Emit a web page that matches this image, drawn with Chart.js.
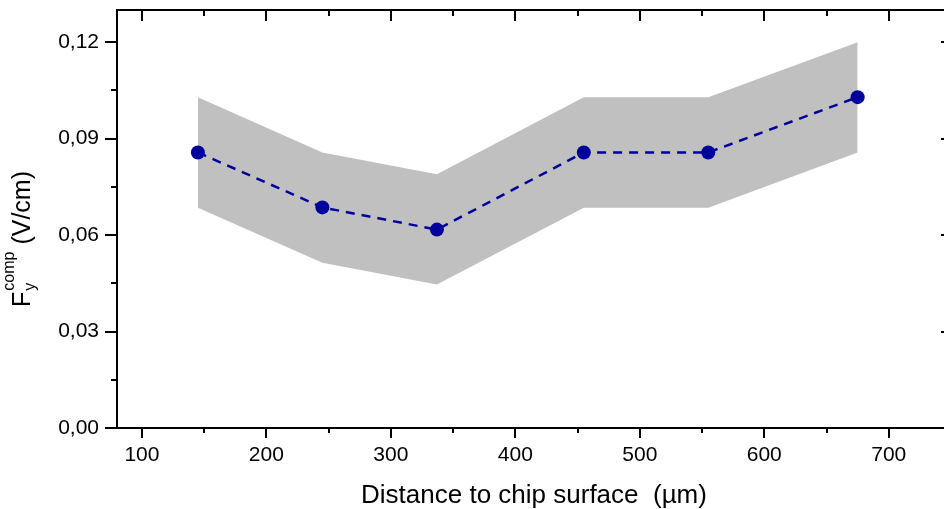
<!DOCTYPE html>
<html>
<head>
<meta charset="utf-8">
<script src="https://cdn.jsdelivr.net/npm/chart.js@4"></script>
<style>
  html, body { margin: 0; padding: 0; background: #fff; overflow: hidden; }
  #wrap { width: 960px; height: 509px; }
</style>
</head>
<body>
<div id="wrap"><canvas id="grafico" width="960" height="509"></canvas></div>
<script>
// datos
const distancias = [145, 245, 337, 455, 555, 675];
const campoFy = [0.0857, 0.0686, 0.0617, 0.0857, 0.0857, 0.1029];
const bandaSuperior = [0.1029, 0.0857, 0.0789, 0.1029, 0.1029, 0.1200];
const bandaInferior = [0.0685, 0.0514, 0.0446, 0.0685, 0.0685, 0.0857];
const ticksX = [100, 200, 300, 400, 500, 600, 700];
const ticksXMenores = [150, 250, 350, 450, 550, 650, 750];
const ticksY = [0, 0.03, 0.06, 0.09, 0.12];
const ticksYMenores = [0.015, 0.045, 0.075, 0.105];

const azul = '#00009c';
const gris = '#c0c0c0';
const fuente = 'Arial, "Liberation Sans", sans-serif';

function puntos(valores) {
  return distancias.map((x, i) => ({ x: x, y: valores[i] }));
}

// marcas de los ejes (abajo/izq hacia afuera, arriba/der hacia adentro)
const marcasEjes = {
  id: 'marcasEjes',
  afterDraw(chart) {
    const ctx = chart.ctx;
    const a = chart.chartArea;
    const sx = chart.scales.x, sy = chart.scales.y;
    ctx.save();
    ctx.strokeStyle = '#000';
    ctx.lineWidth = 2;
    ctx.beginPath();
    // marco superior y derecho
    ctx.moveTo(a.left - 1, a.top);
    ctx.lineTo(a.right, a.top);
    ctx.lineTo(a.right, a.bottom);
    ticksX.forEach(v => {
      const px = Math.round(sx.getPixelForValue(v));
      ctx.moveTo(px, a.bottom); ctx.lineTo(px, a.bottom + 10);
      ctx.moveTo(px, a.top); ctx.lineTo(px, a.top + 11);
    });
    ticksXMenores.forEach(v => {
      const px = Math.round(sx.getPixelForValue(v));
      ctx.moveTo(px, a.bottom); ctx.lineTo(px, a.bottom + 5);
      ctx.moveTo(px, a.top); ctx.lineTo(px, a.top + 6);
    });
    ticksY.forEach(v => {
      const py = Math.round(sy.getPixelForValue(v));
      ctx.moveTo(a.left, py); ctx.lineTo(a.left - 12, py);
      ctx.moveTo(a.right, py); ctx.lineTo(a.right - 10, py);
    });
    ticksYMenores.forEach(v => {
      const py = Math.round(sy.getPixelForValue(v));
      ctx.moveTo(a.left, py); ctx.lineTo(a.left - 6, py);
      ctx.moveTo(a.right, py); ctx.lineTo(a.right - 6, py);
    });
    ctx.stroke();

    // titulo del eje y con subindice y superindice
    ctx.translate(30, 239);
    ctx.rotate(-Math.PI / 2);
    ctx.fillStyle = '#000';
    ctx.textBaseline = 'alphabetic';
    const fGrande = '25px ' + fuente;
    const fChica = '16px ' + fuente;
    ctx.font = fGrande;
    const wF = ctx.measureText('F').width;
    const wUnidad = ctx.measureText('(V/cm)').width;
    ctx.font = fChica;
    const wSup = Math.max(ctx.measureText('comp').width, ctx.measureText('y').width);
    const espacio = 8;
    const total = wF + wSup + espacio + wUnidad;
    let x0 = -total / 2;
    ctx.font = fGrande;
    ctx.fillText('F', x0, 0);
    ctx.font = fChica;
    ctx.fillText('y', x0 + wF + 1, 5);
    ctx.fillText('comp', x0 + wF + 1, -16);
    ctx.font = fGrande;
    ctx.fillText('(V/cm)', x0 + wF + wSup + espacio, 0);
    ctx.restore();
  }
};

const ctx = document.getElementById('grafico').getContext('2d');
new Chart(ctx, {
  type: 'line',
  data: {
    datasets: [
      {
        label: 'Fy',
        data: puntos(campoFy),
        borderColor: azul,
        borderWidth: 2.5,
        borderDash: [9, 7],
        pointRadius: 7,
        pointBackgroundColor: azul,
        pointBorderColor: azul,
        pointBorderWidth: 0,
        fill: false,
        order: 0
      },
      {
        label: 'superior',
        data: puntos(bandaSuperior),
        borderWidth: 0,
        borderColor: gris,
        backgroundColor: gris,
        pointRadius: 0,
        fill: '+1',
        order: 1
      },
      {
        label: 'inferior',
        data: puntos(bandaInferior),
        borderWidth: 0,
        borderColor: gris,
        pointRadius: 0,
        fill: false,
        order: 2
      }
    ]
  },
  options: {
    responsive: false,
    animation: false,
    layout: { padding: { top: 10, right: 9, left: 0, bottom: 0 } },
    plugins: { legend: { display: false }, tooltip: { enabled: false } },
    elements: { line: { tension: 0 } },
    scales: {
      x: {
        type: 'linear',
        min: 80,
        max: 750,
        afterBuildTicks: s => { s.ticks = ticksX.map(v => ({ value: v })); },
        afterFit: s => { s.height = 81; s.paddingLeft = 0; s.paddingRight = 0; },
        grid: { display: false, drawTicks: false },
        border: { display: true, color: '#000', width: 2 },
        ticks: {
          padding: 15,
          color: '#000',
          font: { family: fuente, size: 21 },
          maxRotation: 0
        },
        title: {
          display: true,
          text: 'Distance to chip surface  (µm)',
          color: '#000',
          font: { family: fuente, size: 26 },
          padding: { top: 0, bottom: -2 }
        }
      },
      y: {
        min: 0,
        max: 0.13,
        afterBuildTicks: s => { s.ticks = ticksY.map(v => ({ value: v })); },
        afterFit: s => { s.width = 117; s.paddingTop = 0; s.paddingBottom = 0; },
        grid: { display: false, drawTicks: false },
        border: { display: true, color: '#000', width: 2 },
        ticks: {
          padding: 18,
          color: '#000',
          font: { family: fuente, size: 21 },
          callback: v => v.toFixed(2).replace('.', ',')
        }
      }
    }
  },
  plugins: [marcasEjes]
});
</script>
</body>
</html>
